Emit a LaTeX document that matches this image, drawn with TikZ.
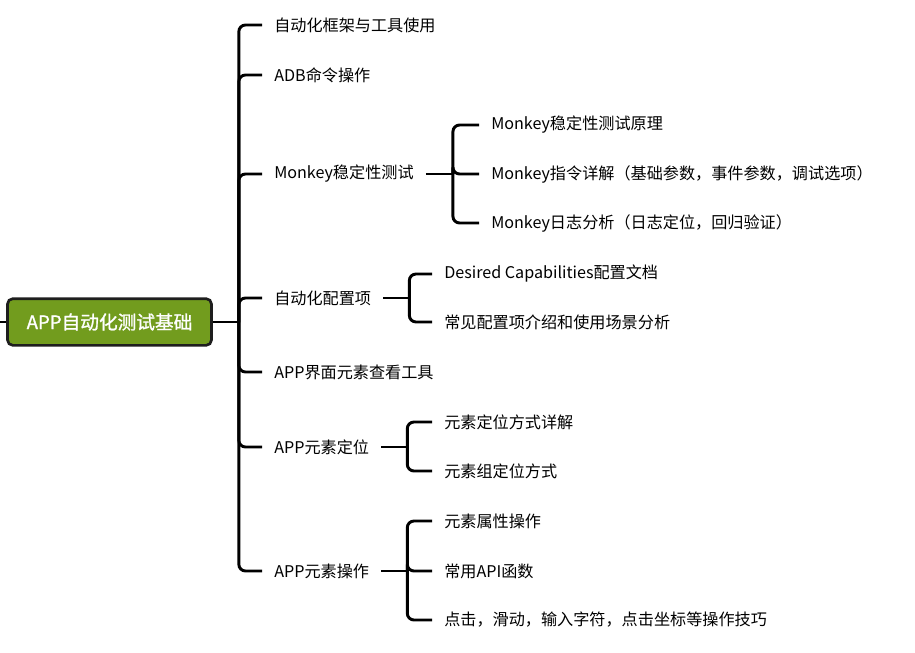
\documentclass[tikz,border=0pt]{standalone}
\usepackage{fontspec}
\setmainfont{Noto Sans CJK SC}
\newfontfamily\rootfont[FakeBold=1.2]{Noto Sans CJK SC}
\usepackage{tikz}
\usetikzlibrary{positioning}
\usepackage{xcolor}
\definecolor{rootgreen}{RGB}{114,156,30}
\definecolor{rootedge}{RGB}{30,30,30}

\begin{document}
\begin{tikzpicture}[x=0.75pt,y=-0.75pt]
            \tikzstyle{rootbox}=[draw=rootedge, line width=2pt, fill=rootgreen, rounded corners=4pt, text=white, font=\fontsize{14}{16}\selectfont\rootfont, minimum width=153pt, minimum height=35pt, inner sep=0pt]
            \tikzstyle{item}=[anchor=west, inner xsep=9pt, inner ysep=2pt, font=\fontsize{12.1}{14}\selectfont]
            \tikzstyle{branch}=[line width=2.2pt, rounded corners=5pt]

            \useasboundingbox (0,0) rectangle (915,653);

            % Root
            \node[rootbox] (root) at (109.5,322) {APP自动化测试基础};
            \coordinate (stub) at (0,322);
            \draw[branch] (root.west) -- (stub);

            % First level
            \node[item] (a1) at (262,25) {自动化框架与工具使用};
            \node[item] (a2) at (262,75) {ADB命令操作};
            \node[item] (a3) at (262,174) {Monkey稳定性测试};
            \node[item] (a4) at (262,298) {自动化配置项};
            \node[item] (a5) at (262,372) {APP界面元素查看工具};
            \node[item] (a6) at (262,447) {APP元素定位};
            \node[item] (a7) at (262,571) {APP元素操作};

            % Monkey
            \node[item] (m1) at (479,125) {Monkey稳定性测试原理};
            \node[item] (m2) at (479,174) {Monkey指令详解（基础参数，事件参数，调试选项）};
            \node[item] (m3) at (479,223) {Monkey日志分析（日志定位，回归验证）};

            % Configuration
            \node[item] (c1) at (432,274) {Desired Capabilities配置文档};
            \node[item] (c2) at (432,322) {常见配置项介绍和使用场景分析};

            % Locating
            \node[item] (l1) at (432,422) {元素定位方式详解};
            \node[item] (l2) at (432,471) {元素组定位方式};

            % Operations
            \node[item] (o1) at (432,521) {元素属性操作};
            \node[item] (o2) at (432,571) {常用API函数};
            \node[item] (o3) at (432,620) {点击，滑动，输入字符，点击坐标等操作技巧};

            % Connectors from the root
            \path (root.east) ++(26,0) coordinate (t0);
            \draw[branch] (root.east) -- (t0);
            \foreach \n in {a1,a2,a3,a4,a5,a6,a7}
                \draw[branch] (t0) |- (\n.west);

            % Connectors of the sub-branches
            \path (a3.east) ++(27,0) coordinate (t3);
            \draw[branch] (a3.east) -- (t3);
            \foreach \n in {m1,m2,m3}
                \draw[branch] (t3) |- (\n.west);

            \path (a4.east) ++(26,0) coordinate (t4);
            \draw[branch] (a4.east) -- (t4);
            \foreach \n in {c1,c2}
                \draw[branch] (t4) |- (\n.west);

            \path (a6.east) ++(26,0) coordinate (t6);
            \draw[branch] (a6.east) -- (t6);
            \foreach \n in {l1,l2}
                \draw[branch] (t6) |- (\n.west);

            \path (a7.east) ++(26,0) coordinate (t7);
            \draw[branch] (a7.east) -- (t7);
            \foreach \n in {o1,o2,o3}
                \draw[branch] (t7) |- (\n.west);
        \end{tikzpicture}
\end{document}
